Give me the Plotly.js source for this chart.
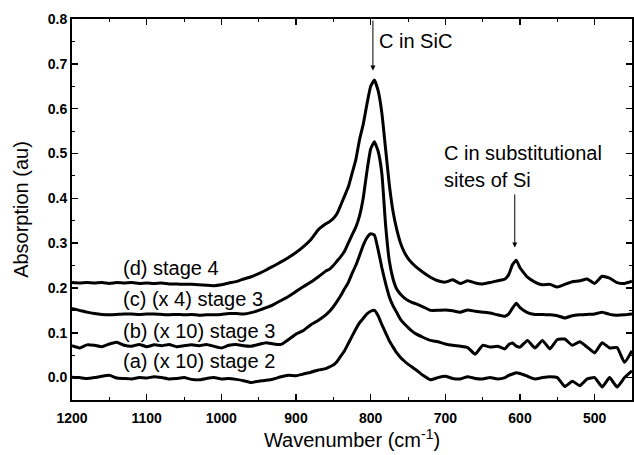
<!DOCTYPE html>
<html>
<head>
<meta charset="utf-8">
<script src="https://cdn.plot.ly/plotly-3.0.1.min.js"></script>
<style>html,body{margin:0;padding:0;background:#fff;}#chart{width:634px;height:455px;}</style>
</head>
<body>
<div id="chart"></div>
<script>
// Wavenumber (cm^-1)
const wavenumber = [
  1200,1190,1180,1170,1160,1150,1140,1130,1120,1110,1100,1090,1080,1070,1060,1050,1040,1030,1020,1010,1000,990,980,970,960,950,940,930,920,910,900,890,880,870,860,
  855,850,845,840,835,830,825,820,815,810,805,800,795,790,785,780,775,770,765,760,755,750,745,740,
  730,720,710,700,690,680,670,660,650,640,630,620,
  615,610,605,600,
  590,580,570,560,550,540,530,520,510,500,490,480,470,460,450
];
// (d) stage 4
const stage4 = [
  .212,.211,.212,.211,.212,.210,.212,.211,.212,.210,.211,.210,.211,.209,.209,.208,.208,.207,.206,.205,.207,.211,.214,.220,.225,.232,.240,.249,.258,.268,.279,.292,.308,.330,.343,
  .348,.355,.366,.385,.405,.425,.455,.485,.530,.565,.610,.650,.664,.640,.590,.510,.430,.370,.330,.300,.280,.266,.256,.248,
  .235,.224,.216,.213,.218,.210,.216,.211,.209,.212,.216,.220,
  .230,.252,.262,.245,
  .224,.213,.207,.208,.202,.208,.214,.216,.220,.210,.226,.222,.212,.210,.215
];
// (c) (x 4) stage 3
const stage3x4 = [
  .154,.150,.146,.143,.141,.140,.141,.142,.142,.141,.142,.142,.141,.140,.141,.140,.141,.139,.140,.140,.141,.143,.143,.142,.145,.150,.156,.163,.172,.181,.192,.203,.213,.225,.238,
  .242,.250,.260,.270,.282,.300,.318,.335,.360,.400,.460,.510,.526,.505,.455,.340,.260,.220,.197,.186,.178,.172,.168,.165,
  .158,.150,.150,.151,.149,.146,.151,.148,.146,.144,.140,.137,
  .142,.155,.166,.156,
  .145,.141,.141,.140,.138,.133,.138,.140,.141,.142,.146,.141,.139,.140,.142
];
// (b) (x 10) stage 3
const stage3x10 = [
  .071,.066,.073,.072,.069,.075,.079,.072,.070,.074,.069,.073,.071,.074,.069,.071,.073,.071,.074,.070,.066,.072,.074,.071,.070,.074,.078,.075,.074,.085,.097,.105,.118,.128,.140,
  .148,.158,.170,.183,.198,.212,.232,.250,.272,.295,.312,.321,.318,.285,.245,.210,.180,.160,.145,.130,.120,.112,.104,.098,
  .090,.083,.080,.075,.072,.070,.067,.052,.072,.068,.070,.064,
  .074,.077,.070,.068,
  .083,.066,.083,.064,.085,.086,.072,.080,.068,.055,.078,.066,.067,.034,.060
];
// (a) (x 10) stage 2
const stage2x10 = [
  .001,.000,-.002,.000,.003,.005,-.001,-.002,-.003,.000,-.001,.002,.000,-.003,-.002,.000,-.004,-.005,-.002,.000,-.003,-.002,-.004,-.007,-.011,-.008,-.006,-.003,.002,.005,.004,.008,.012,.017,.020,
  .024,.028,.036,.048,.060,.076,.092,.108,.122,.132,.142,.148,.150,.138,.118,.100,.082,.068,.055,.045,.037,.030,.024,.018,
  .005,-.005,.000,.003,-.002,-.003,.002,-.002,-.003,.000,-.003,.000,
  .005,.008,.011,.009,
  .003,-.003,.000,.002,.000,-.020,-.008,-.018,-.003,.000,-.021,.000,-.021,.000,.015
];
const seriesNames = ['(d) stage 4','(c) (x 4) stage 3','(b) (x 10) stage 3','(a) (x 10) stage 2'];
const xTicks = [1200,1100,1000,900,800,700,600,500];
const yTicks = [0.0,0.1,0.2,0.3,0.4,0.5,0.6,0.7,0.8];

const font = 'Liberation Sans, Arial, sans-serif';
const allSeries = [stage4, stage3x4, stage3x10, stage2x10];
const traces = allSeries.map((ys, i) => ({
  x: wavenumber, y: ys, type: 'scatter', mode: 'lines', name: seriesNames[i],
  line: {color: '#000', width: 3, shape: 'spline', smoothing: 0.4},
  hoverinfo: 'skip'
}));

const labelPos = [
  {x: 1134, y: 0.245}, {x: 1134, y: 0.176}, {x: 1134, y: 0.105}, {x: 1134, y: 0.036}
];
const annotations = seriesNames.map((t, i) => ({
  x: labelPos[i].x, y: labelPos[i].y, xref: 'x', yref: 'y', text: t, showarrow: false,
  xanchor: 'left', yanchor: 'middle', font: {family: font, size: 20, color: '#000'}
}));
annotations.push(
  {x: 797, y: 0.685, ax: 797, ay: 0.8, xref: 'x', yref: 'y', axref: 'x', ayref: 'y', text: '',
   showarrow: true, arrowhead: 2, arrowsize: 1, arrowwidth: 1, arrowcolor: '#000'},
  {x: 791, y: 0.752, xref: 'x', yref: 'y', text: 'C in SiC', showarrow: false,
   xanchor: 'left', yanchor: 'middle', font: {family: font, size: 20, color: '#000'}},
  {x: 705, y: 0.502, xref: 'x', yref: 'y', text: 'C in substitutional', showarrow: false,
   xanchor: 'left', yanchor: 'middle', font: {family: font, size: 20, color: '#000'}},
  {x: 705, y: 0.44, xref: 'x', yref: 'y', text: 'sites of Si', showarrow: false,
   xanchor: 'left', yanchor: 'middle', font: {family: font, size: 20, color: '#000'}},
  {x: 607, y: 0.29, ax: 607, ay: 0.412, xref: 'x', yref: 'y', axref: 'x', ayref: 'y', text: '',
   showarrow: true, arrowhead: 2, arrowsize: 1, arrowwidth: 1, arrowcolor: '#000'}
);

const layout = {
  width: 634, height: 455,
  margin: {l: 72, r: 2, t: 19, b: 55},
  paper_bgcolor: '#fff', plot_bgcolor: '#fff',
  showlegend: false,
  font: {family: font, color: '#000'},
  xaxis: {
    range: [1200, 450], autorange: false,
    tickvals: xTicks, ticktext: xTicks.map(String),
    ticks: 'inside', ticklen: 6, tickwidth: 1.5, tickcolor: '#000',
    minor: {dtick: 50, ticks: 'inside', ticklen: 3, tickwidth: 1, tickcolor: '#000', showgrid: false},
    showline: true, linecolor: '#000', linewidth: 2, mirror: 'ticks',
    showgrid: false, zeroline: false, ticklabelstandoff: 4,
    tickfont: {family: font, size: 14, weight: 'bold', color: '#000'},
    title: {text: 'Wavenumber (cm<sup>-1</sup>)', font: {family: font, size: 20, color: '#000'}, standoff: 5}
  },
  yaxis: {
    range: [-0.05, 0.8], autorange: false,
    tickvals: yTicks, ticktext: yTicks.map(v => v.toFixed(1)),
    ticks: 'inside', ticklen: 6, tickwidth: 1.5, tickcolor: '#000',
    minor: {dtick: 0.05, ticks: 'inside', ticklen: 3, tickwidth: 1, tickcolor: '#000', showgrid: false},
    showline: true, linecolor: '#000', linewidth: 2, mirror: 'ticks',
    showgrid: false, zeroline: false,
    tickfont: {family: font, size: 14, weight: 'bold', color: '#000'},
    title: {text: 'Absorption (au)', font: {family: font, size: 20, color: '#000'}, standoff: 14}
  },
  annotations: annotations
};

Plotly.newPlot('chart', traces, layout, {displayModeBar: false, staticPlot: true});
</script>
</body>
</html>
